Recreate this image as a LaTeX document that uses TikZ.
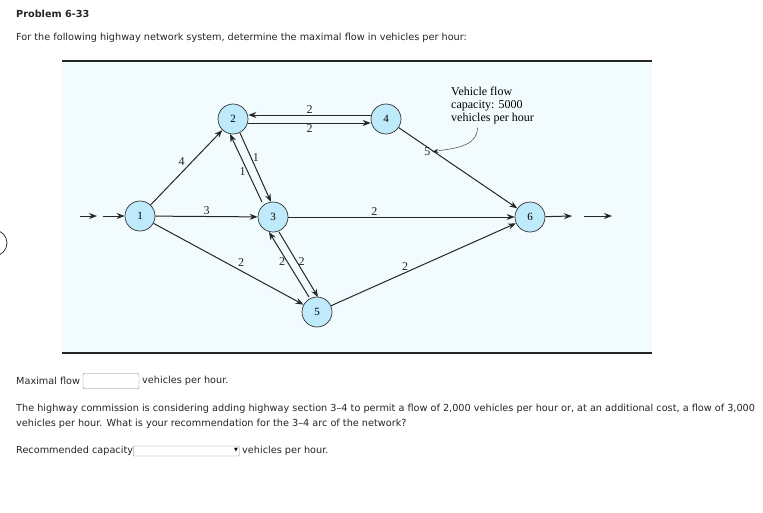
\documentclass[tikz,border=0pt]{standalone}
\usepackage{fontspec}
\setmainfont{DejaVu Sans}
\newfontfamily\tms{Liberation Serif}
\usetikzlibrary{arrows.meta}
\begin{document}
\begin{tikzpicture}[x=1pt,y=-1pt,
  nd/.style={circle,draw=black!80,line width=0.7pt,fill=cyan!25,minimum size=30pt,inner sep=0pt,font=\tms\fontsize{11}{12}\selectfont},
  ar/.style={-{Stealth[length=8pt,width=6pt]},line width=1pt,black!85},
  lb/.style={font=\tms\fontsize{12}{13}\selectfont,inner sep=1.5pt},
  tx/.style={font=\fontsize{9.7}{11}\selectfont,anchor=west,inner sep=0pt,text=black!85},
  bx/.style={draw=black!50,fill=white,rounded corners=1pt}]
\useasboundingbox (0,0) rectangle (763,512);
\fill[white] (0,0) rectangle (763,512);
\node[tx,font=\bfseries\fontsize{9.7}{11}\selectfont] (t1) at (16,14) {Problem 6-33};
\node[tx] (t2) at (16,38) {For the following highway network system, determine the maximal flow in vehicles per hour:};
\fill[cyan!5] (62,62) rectangle (652,352);
\draw[line width=2.5pt,black!85] (62,61) -- (652,61);
\draw[line width=2.5pt,black!85] (62,353) -- (652,353);
\draw[black!80,line width=0.8pt] (-6,230) arc (90:-90:13 and -13);
\node[nd] (n1) at (140,216) {1};
\node[nd] (n2) at (233,119) {2};
\node[nd] (n4) at (386,119) {4};
\node[nd] (n3) at (273,217) {3};
\node[nd] (n5) at (317,312) {5};
\node[nd] (n6) at (530,217) {6};
\coordinate (i0) at (80,216); \coordinate (i1) at (97,216); \coordinate (i2) at (103,216);
\draw[ar] (i0) -- (i1); \draw[ar] (i2) -- (n1);
\coordinate (o1) at (572,216); \coordinate (o2) at (584,216); \coordinate (o3) at (612,216);
\draw[ar] (n6) -- (o1); \draw[ar] (o2) -- (o3);
\draw[ar] (n1) -- node[lb,above left]{4} (n2);
\draw[ar] (n1) -- node[lb,above,pos=0.5]{3} (n3);
\draw[ar] (n1) -- node[lb,above right,pos=0.55]{2} (n5);
\draw[ar] ([yshift=4pt]n4.west) -- node[lb,above]{2} ([yshift=4pt]n2.east);
\draw[ar] ([yshift=-4pt]n2.east) -- node[lb,below]{2} ([yshift=-4pt]n4.west);
\coordinate (a23) at (262,202);
\draw[ar] (a23) -- node[lb,left,pos=0.45]{1} (230,134);
\draw[ar] (240,133) -- node[lb,right,pos=0.35]{1} (271,202);
\draw[ar] (309,297) -- node[lb,left,pos=0.55]{2} (269,232);
\draw[ar] (279,232) -- node[lb,right,pos=0.45]{2} (318,297);
\draw[ar] (n3) -- node[lb,above,pos=0.38]{2} (n6);
\draw[ar] (n4) -- node[lb,left,pos=0.3,xshift=-2pt](c5){5} (n6);
\draw[ar] (n5) -- node[lb,above,pos=0.4]{2} (n6);
\node[lb,align=left,anchor=north west,inner sep=0pt] (ann) at (451,87) {Vehicle flow\\capacity: 5000\\vehicles per hour};
\draw[-{Stealth[length=6pt,width=4pt]},black!85] (ann.south) ++(-15,3) to[out=-90,in=10] (c5.east);
\node[tx] (m1) at (16,381) {Maximal flow};
\node[bx,minimum width=56pt,minimum height=15pt] (b1) at (111,381) {};
\node[tx] (m2) at (142,381) {vehicles per hour.};
\node[tx] (q1) at (16,409) {The highway commission is considering adding highway section 3\textendash 4 to permit a flow of 2,000 vehicles per hour or, at an additional cost, a flow of 3,000};
\node[tx] (q2) at (16,424) {vehicles per hour. What is your recommendation for the 3\textendash 4 arc of the network?};
\node[tx] (r1) at (16,451) {Recommended capacity};
\node[bx,minimum width=106pt,minimum height=10pt,anchor=west] (b2) at (133,451) {};
\node[font=\fontsize{5}{5}\selectfont,inner sep=0pt] (tri) at (236,450) {▼};
\node[tx] (r2) at (242,451) {vehicles per hour.};
\end{tikzpicture}
\end{document}
